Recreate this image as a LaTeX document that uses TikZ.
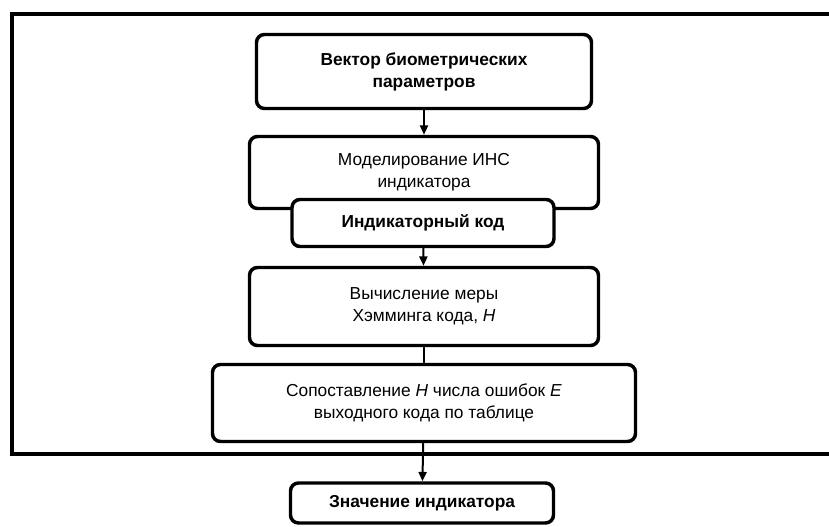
\documentclass[tikz,border=0pt]{standalone}
\usepackage{fontspec}
\setmainfont{Liberation Sans}
\usetikzlibrary{arrows.meta}

\begin{document}
\begin{tikzpicture}[x=0.75pt,y=-0.75pt,
  blk/.style={draw,line width=2.6pt,rounded corners=6pt,fill=white,align=center,inner sep=0pt,font=\fontsize{13}{16.5}\selectfont},
  arr/.style={line width=1.5pt,-{Triangle[length=7pt,width=6pt]}},
  lin/.style={line width=1.5pt}]
\useasboundingbox (0,0) rectangle (829,526);
\draw[line width=3pt] (829,14) -- (12,14) -- (12,454) -- (829,454);
\node[blk,minimum width=251.25pt,minimum height=55.5pt] (vec) at (424,71.5) {\bfseries Вектор биометрических\\\bfseries параметров};
\node[blk,minimum width=261.75pt,minimum height=54pt] (ins) at (424,172.5) {Моделирование ИНС\\индикатора};
\node[blk,minimum width=196.5pt,minimum height=35.25pt] (code) at (423,223) {\bfseries Индикаторный код};
\node[blk,minimum width=261.75pt,minimum height=58.5pt] (ham) at (424,306.5) {Вычисление меры\\Хэмминга кода, \textit{H}};
\node[blk,minimum width=317.25pt,minimum height=57.75pt] (cmp) at (424,403) {Сопоставление \textit{H} числа ошибок \textit{E}\\выходного кода по таблице};
\node[blk,minimum width=197.25pt,minimum height=30pt] (ind) at (422,503) {\bfseries Значение индикатора};
\draw[arr] (vec) -- (ins);
\draw[arr] (code) -- (ham);
\draw[lin] (ham) -- (cmp);
\draw[arr] (cmp) -- (ind);
\end{tikzpicture}
\end{document}
